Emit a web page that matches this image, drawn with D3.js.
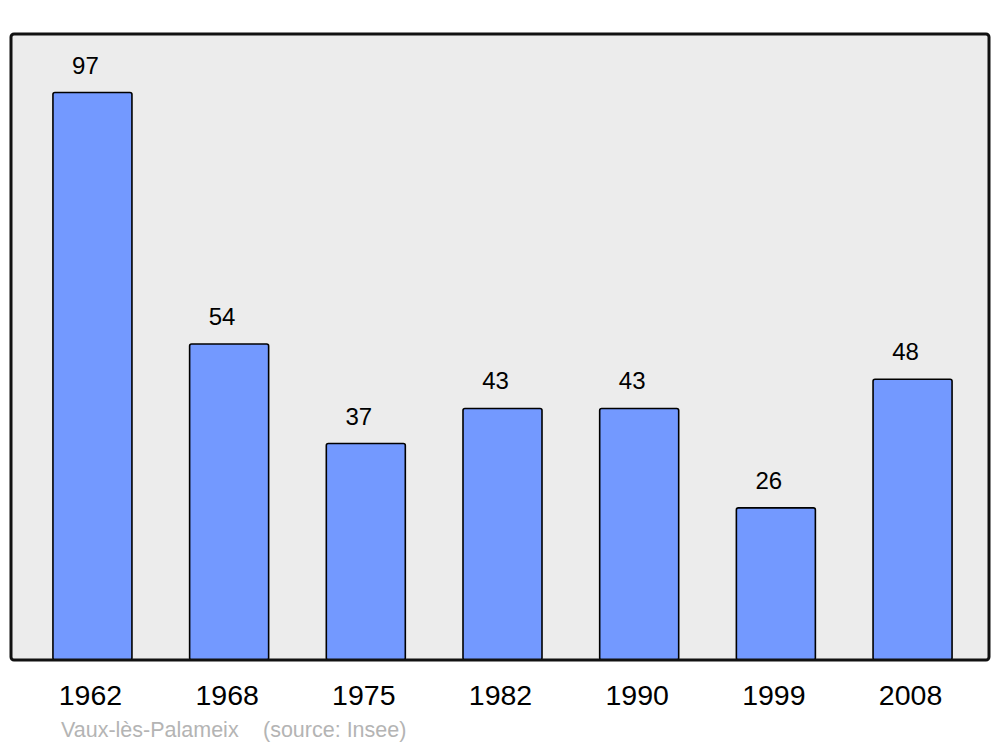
<!DOCTYPE html>
<html><head><meta charset="utf-8">
<script src="https://cdn.jsdelivr.net/npm/d3@7"></script>
<style>html,body{margin:0;padding:0;background:#fff;}svg{display:block;}</style>
</head><body>
<script>
const years = ["1962","1968","1975","1982","1990","1999","2008"];
const population = [97,54,37,43,43,26,48];
const footerPlace = "Vaux-lès-Palameix";
const footerSource = "(source: Insee)";

const W = 1000, H = 747;
const svg = d3.select("body").append("svg").attr("width", W).attr("height", H);

const frame = {x0: 11, x1: 989, y0: 34, y1: 660};
svg.append("rect").attr("x", frame.x0).attr("y", frame.y0)
  .attr("width", frame.x1 - frame.x0).attr("height", frame.y1 - frame.y0)
  .attr("rx", 3).attr("fill", "#ececec").attr("stroke", "none");

const x = d3.scaleBand().domain(years).range([24.1, 980.9]).paddingInner(0.422).paddingOuter(0.211);
const y = d3.scaleLinear().domain([0, 107]).range([frame.y1, frame.y0]);

const data = years.map((yr, i) => ({yr, v: population[i]}));

svg.append("g").selectAll("rect").data(data).join("rect")
  .attr("x", d => x(d.yr)).attr("y", d => y(d.v))
  .attr("width", x.bandwidth()).attr("height", d => y(0) - y(d.v))
  .attr("rx", 2).attr("fill", "#7399ff").attr("stroke", "#000").attr("stroke-width", 1.6);

svg.append("g").selectAll("text").data(data).join("text")
  .attr("x", d => x(d.yr) + x.bandwidth()/2 - 7).attr("y", d => y(d.v) - 19)
  .attr("text-anchor", "middle").attr("font-family", "Liberation Sans, Arial, sans-serif")
  .attr("font-size", 24).attr("fill", "#000").text(d => d.v);

// frame border on top
svg.append("rect").attr("x", frame.x0).attr("y", frame.y0)
  .attr("width", frame.x1 - frame.x0).attr("height", frame.y1 - frame.y0)
  .attr("rx", 3).attr("fill", "none").attr("stroke", "#111").attr("stroke-width", 3);

const xAxis = svg.append("g").attr("transform", `translate(-2,${frame.y1})`)
  .call(d3.axisBottom(x).tickSize(0).tickPadding(0));
xAxis.select(".domain").remove();
xAxis.selectAll("text").attr("y", 45).attr("dy", 0)
  .attr("font-family", "Liberation Sans, Arial, sans-serif").attr("font-size", 28.5).attr("fill", "#000");

svg.append("text").attr("x", 61).attr("y", 737)
  .attr("font-family", "Liberation Sans, Arial, sans-serif").attr("font-size", 21.5)
  .attr("fill", "#b4b4b4").text(footerPlace);
svg.append("text").attr("x", 263).attr("y", 737)
  .attr("font-family", "Liberation Sans, Arial, sans-serif").attr("font-size", 21.5)
  .attr("fill", "#b4b4b4").text(footerSource);
</script>
</body></html>
